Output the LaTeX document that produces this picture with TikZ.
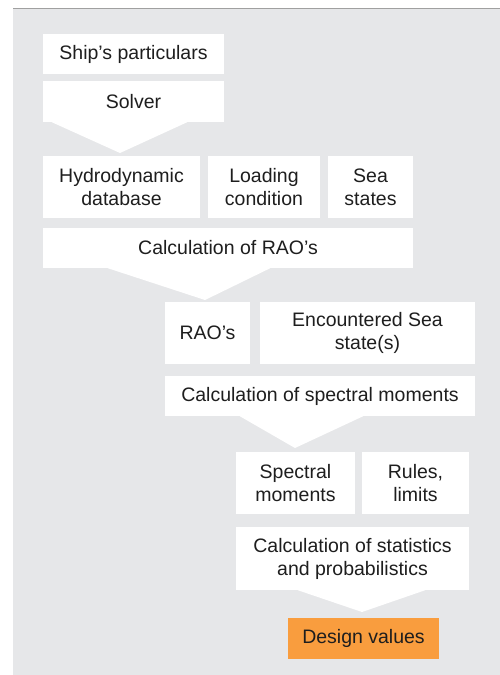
\documentclass[tikz,border=0pt]{standalone}
\usepackage{fontspec}
\setmainfont{Liberation Sans}
\usetikzlibrary{calc}
\definecolor{panelgray}{RGB}{230,231,233}
\definecolor{rulegray}{RGB}{160,160,160}
\definecolor{designorange}{RGB}{249,157,62}
\definecolor{textdark}{RGB}{30,30,30}
\begin{document}
\begin{tikzpicture}[x=1pt,y=-1pt,
  box/.style={fill=white,draw=none,inner sep=0pt,align=center,text=textdark,
    font=\fontsize{19.5}{23}\selectfont},
  resultbox/.style={box,fill=designorange},
  chevron/.style={fill=white,draw=none}]
\useasboundingbox (0,0) rectangle (500,675);
\fill[panelgray] (13,8.5) rectangle (500,675);
\draw[rulegray,line width=0.9pt] (13,8) -- (500,8);

\node[box,minimum width=181,minimum height=40] (ship) at (133.5,54) {Ship’s particulars};
\node[box,minimum width=181,minimum height=41] (solver) at (133.5,101.5) {Solver};

\node[box,minimum width=157,minimum height=62] (hydro) at (121.5,187) {Hydrodynamic\\database};
\node[box,minimum width=112,minimum height=62] (loading) at (264,187) {Loading\\condition};
\node[box,minimum width=85,minimum height=62] (sea) at (370.5,187) {Sea\\states};

\node[box,minimum width=370,minimum height=40] (raocalc) at (228,248) {Calculation of RAO’s};

\node[box,minimum width=85,minimum height=62] (rao) at (207.5,333) {RAO’s};
\node[box,minimum width=215,minimum height=62] (enc) at (367.5,333) {Encountered Sea\\state(s)};

\node[box,minimum width=310,minimum height=40] (spcalc) at (320,396) {Calculation of spectral moments};

\node[box,minimum width=119,minimum height=62] (spec) at (295.5,483) {Spectral\\moments};
\node[box,minimum width=107,minimum height=62] (rules) at (415.5,483) {Rules,\\limits};

\node[box,minimum width=233,minimum height=63] (statcalc) at (352.5,558.5) {Calculation of statistics\\and probabilistics};

\node[resultbox,minimum width=151,minimum height=41] (design) at (363.5,638.5) {Design values};

% chevron arrows from each calculation box towards the next box
\coordinate (t1) at (120,153);
\coordinate (t2) at (205,300);
\coordinate (t3) at (295,448);
\coordinate (t4) at (362,612);
\fill[chevron] ($(solver.south west)+(9,0)$) -- (t1) -- ($(solver.south east)+(-37,0)$) -- cycle;
\fill[chevron] ($(raocalc.south west)+(65,0)$) -- (t2) -- ($(raocalc.south east)+(-143,0)$) -- cycle;
\fill[chevron] ($(spcalc.south west)+(75,0)$) -- (t3) -- ($(spcalc.south east)+(-112,0)$) -- cycle;
\fill[chevron] ($(statcalc.south west)+(62,0)$) -- (t4) -- ($(statcalc.south east)+(-44,0)$) -- cycle;
\end{tikzpicture}
\end{document}
